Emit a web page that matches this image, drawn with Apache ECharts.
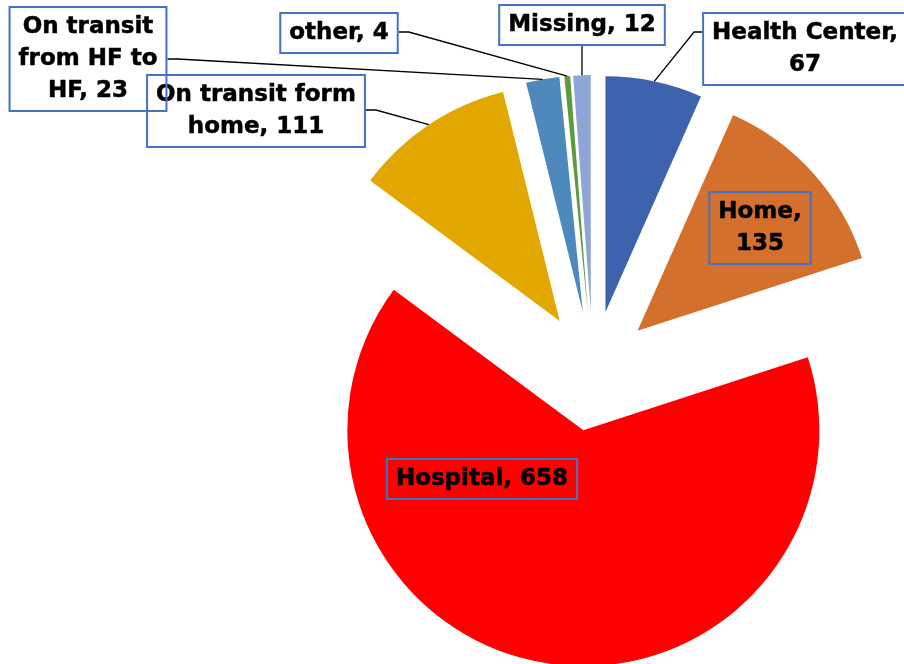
<!DOCTYPE html>
<html>
<head>
<meta charset="utf-8">
<title>Place of delivery</title>
<script src="https://cdn.jsdelivr.net/npm/echarts@6/dist/echarts.min.js"></script>
<style>
  html, body { margin: 0; padding: 0; background: #fff; }
  #chart { width: 904px; height: 664px; }
</style>
</head>
<body>
<div id="chart"></div>
<script>
// data
const categories = ['Health Center', 'Home', 'Hospital', 'On transit form home', 'On transit from HF to HF', 'other', 'Missing'];
const values = [67, 135, 658, 111, 23, 4, 12];
const colors = ['#3D63AE', '#D4702D', '#FF0000', '#E2A800', '#4E89BE', '#5F9A40', '#8FA5D5'];
// how each label text is wrapped
const labelNames = ['Health Center', 'Home', 'Hospital', 'On transit form\nhome', 'On transit\nfrom HF to\nHF', 'other', 'Missing'];
const labelSeps = [',\n', ',\n', ', ', ', ', ', ', ', ', ', '];

// label boxes (centre) and where the leader leaves the box
const labelPos = [
  { x: 805, y: 49, side: 'left', dy: -17 },
  { x: 760, y: 228 },
  { x: 482, y: 479 },
  { x: 256, y: 111, side: 'right', dy: -1 },
  { x: 88, y: 59, side: 'right', dy: 0 },
  { x: 339, y: 33, side: 'right', dy: -1 },
  { x: 582, y: 25, side: 'bottom', dy: 0 }
];

const CX = 593, CY = 371, R = 236, OFFSET = 60;
const total = values.reduce((a, b) => a + b, 0);

// point on the outer arc of an exploded slice, in the middle of the slice
function arcPoint(i) {
  let before = 0;
  for (let k = 0; k < i; k++) before += values[k];
  const a = (before + values[i] / 2) / total * Math.PI * 2;
  const d = R + OFFSET;
  return [CX + d * Math.sin(a), CY - d * Math.cos(a)];
}

const chart = echarts.init(document.getElementById('chart'));

const option = {
  animation: false,
  series: [
    {
      // the exploded slices
      type: 'pie',
      center: [CX, CY],
      radius: R,
      startAngle: 90,
      clockwise: true,
      selectedMode: 'multiple',
      selectedOffset: OFFSET,
      emphasis: { disabled: true },
      label: { show: false },
      labelLine: { show: false },
      data: categories.map((name, i) => ({
        name: name,
        value: values[i],
        selected: true,
        itemStyle: { color: colors[i] }
      }))
    },
    {
      // same data again, only to carry the data labels
      type: 'pie',
      center: [CX, CY],
      radius: R,
      startAngle: 90,
      clockwise: true,
      silent: true,
      z: 3,
      avoidLabelOverlap: false,
      emphasis: { disabled: true },
      itemStyle: { color: 'rgba(0,0,0,0)' },
      label: {
        show: true,
        position: 'outside',
        fontFamily: 'DejaVu Sans',
        fontWeight: 'bold',
        fontSize: 23,
        lineHeight: 32,
        color: '#000',
        textBorderColor: '#000',
        textBorderWidth: 0.5,
        borderColor: '#4472C4',
        borderWidth: 2,
        padding: [4, 9],
        formatter: p => labelNames[p.dataIndex] + labelSeps[p.dataIndex] + p.value
      },
      labelLine: { show: true, lineStyle: { color: '#000', width: 1.3 } },
      labelLayout: function (params) {
        const i = params.dataIndex;
        const lp = labelPos[i];
        const out = { x: lp.x, y: lp.y, align: 'center', verticalAlign: 'middle' };
        if (lp.side) {
          const r = params.labelRect;
          const w = r.width, h = r.height;
          let start, bend;
          if (lp.side === 'left') {
            start = [lp.x - w / 2, lp.y + lp.dy];
            bend = [start[0] - 8, start[1]];
          } else if (lp.side === 'right') {
            start = [lp.x + w / 2, lp.y + lp.dy];
            bend = [start[0] + 10, start[1]];
          } else {
            start = [lp.x, lp.y + h / 2];
            bend = [lp.x, lp.y + h / 2];
          }
          out.labelLinePoints = [start, bend, arcPoint(i)];
        }
        return out;
      },
      data: categories.map((name, i) => ({
        name: name,
        value: values[i],
        labelLine: { show: i !== 1 && i !== 2 }
      }))
    }
  ]
};

chart.setOption(option);
window.addEventListener('resize', () => {
  chart.resize();
});
</script>
</body>
</html>
